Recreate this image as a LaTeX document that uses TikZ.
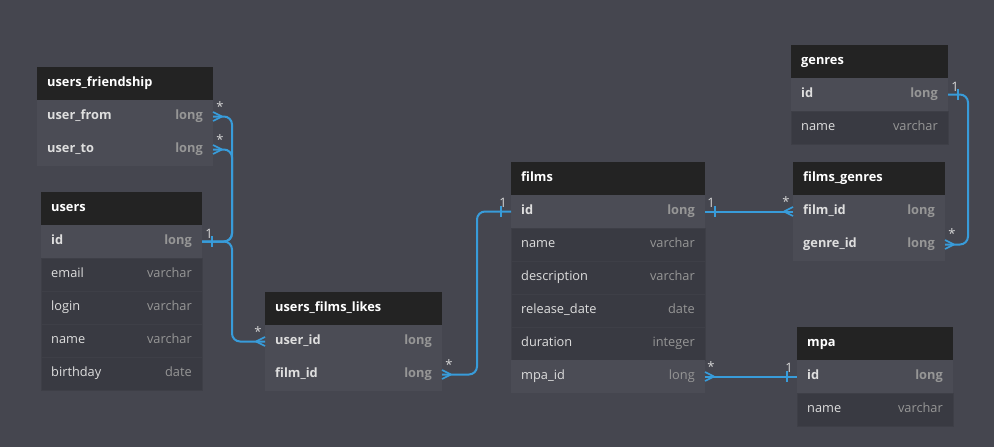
\documentclass[tikz,border=0pt]{standalone}
\usepackage{fontspec}
\setmainfont{Open Sans}
\usetikzlibrary{calc}
\definecolor{bgc}{RGB}{69,70,79}
\definecolor{hdrc}{RGB}{35,35,35}
\definecolor{keyc}{RGB}{75,76,85}
\definecolor{plainc}{RGB}{57,58,66}
\definecolor{sepc}{RGB}{62,63,71}
\definecolor{linkc}{RGB}{56,156,218}
\definecolor{namec}{RGB}{222,222,222}
\definecolor{typec}{RGB}{150,150,150}
\definecolor{lblc}{RGB}{215,215,215}
\tikzset{
  cell/.style={rectangle, inner sep=0pt, outer sep=0pt, minimum height=33pt},
  hdrcell/.style={cell, fill=hdrc},
  keycell/.style={cell, fill=keyc},
  plaincell/.style={cell, fill=plainc, draw=sepc, line width=0.5pt},
  hdrtext/.style={inner sep=0pt, text=white, font=\bfseries\fontsize{12.8}{14}\selectfont},
  keyname/.style={inner sep=0pt, text=namec, font=\bfseries\fontsize{12.8}{14}\selectfont},
  plainname/.style={inner sep=0pt, text=namec, font=\fontsize{12.8}{14}\selectfont},
  keytype/.style={inner sep=0pt, text=typec, font=\bfseries\fontsize{12.8}{14}\selectfont},
  plaintype/.style={inner sep=0pt, text=typec, font=\fontsize{12.8}{14}\selectfont},
  conn/.style={draw=linkc, line width=2pt, rounded corners=8pt},
  crowst/.style={draw=linkc, line width=1.6pt},
  tickst/.style={draw=linkc, line width=1.6pt},
  cardlbl/.style={inner sep=0pt, text=lblc, font=\fontsize{13}{14}\selectfont},
}
\newcommand\dbhead[5]{%
  \node[hdrcell, minimum width=#4pt, anchor=north west] (#1) at (#2,#3) {};
  \node[hdrtext, anchor=base west] (#1-t) at ([xshift=10pt,yshift=-2.8pt]#1.west) {#5};}
\newcommand\dbrow[7]{%
  \node[#4, minimum width=#3pt, anchor=north west] (#1) at (#2.south west) {};
  \node[#5name, anchor=base west] (#1-n) at ([xshift=10pt,yshift=-3.2pt]#1.west) {#6};
  \node[#5type, anchor=base east] (#1-y) at ([xshift=-10pt,yshift=-3.2pt]#1.east) {#7};}
\newcommand\crowfoot[2]{%
  \draw[crowst] ([xshift=#2*9pt]#1) -- ([yshift=4.5pt]#1) ([xshift=#2*9pt]#1) -- ([yshift=-4.5pt]#1);}
\newcommand\onetick[2]{%
  \draw[tickst] ([xshift=#2*10pt,yshift=5.5pt]#1) -- ([xshift=#2*10pt,yshift=-5.5pt]#1);}
\begin{document}
\begin{tikzpicture}[x=1pt,y=-1pt]
\useasboundingbox[fill=bgc] (0,0) rectangle (994,447);
% users_friendship
\dbhead{uf}{37}{67}{176}{users\_friendship}
\dbrow{ufrom}{uf}{176}{keycell}{key}{user\_from}{long}
\dbrow{uto}{ufrom}{176}{keycell}{key}{user\_to}{long}
% users
\dbhead{us}{41}{192}{161}{users}
\dbrow{uid}{us}{161}{keycell}{key}{id}{long}
\dbrow{uemail}{uid}{161}{plaincell}{plain}{email}{varchar}
\dbrow{ulogin}{uemail}{161}{plaincell}{plain}{login}{varchar}
\dbrow{uname}{ulogin}{161}{plaincell}{plain}{name}{varchar}
\dbrow{ubirth}{uname}{161}{plaincell}{plain}{birthday}{date}
% users_films_likes
\dbhead{ufl}{265}{292}{177}{users\_films\_likes}
\dbrow{ulike}{ufl}{177}{keycell}{key}{user\_id}{long}
\dbrow{lfilm}{ulike}{177}{keycell}{key}{film\_id}{long}
% films
\dbhead{fi}{511}{162}{194}{films}
\dbrow{fid}{fi}{194}{keycell}{key}{id}{long}
\dbrow{fname}{fid}{194}{plaincell}{plain}{name}{varchar}
\dbrow{fdesc}{fname}{194}{plaincell}{plain}{description}{varchar}
\dbrow{frel}{fdesc}{194}{plaincell}{plain}{release\_date}{date}
\dbrow{fdur}{frel}{194}{plaincell}{plain}{duration}{integer}
\dbrow{fmpa}{fdur}{194}{keycell}{plain}{mpa\_id}{long}
% genres
\dbhead{ge}{791}{45}{157}{genres}
\dbrow{gid}{ge}{157}{keycell}{key}{id}{long}
\dbrow{gname}{gid}{157}{plaincell}{plain}{name}{varchar}
% films_genres
\dbhead{fg}{793}{162}{152}{films\_genres}
\dbrow{fgfilm}{fg}{152}{keycell}{key}{film\_id}{long}
\dbrow{fggenre}{fgfilm}{152}{keycell}{key}{genre\_id}{long}
% mpa
\dbhead{mp}{797}{327}{156}{mpa}
\dbrow{mid}{mp}{156}{keycell}{key}{id}{long}
\dbrow{mname}{mid}{156}{plaincell}{plain}{name}{varchar}
% bus coordinates
\coordinate (busU) at (232,0);
\coordinate (busL) at (477,0);
\coordinate (busG) at (968,0);
% connectors
\draw[conn] (uid.east) -| (busU |- ufrom.east) -- (ufrom.east);
\draw[conn] (uid.east) -| (busU |- uto.east) -- (uto.east);
\draw[conn] (uid.east) -| (busU |- ulike.west) -- (ulike.west);
\draw[conn] (lfilm.east) -| (busL |- fid.west) -- (fid.west);
\draw[conn] (fid.east) -- (fgfilm.west);
\draw[conn] (gid.east) -| (busG |- fggenre.east) -- (fggenre.east);
\draw[conn] (fmpa.east) -- (mid.west);
% crow's feet
\crowfoot{ufrom.east}{1}
\crowfoot{uto.east}{1}
\crowfoot{ulike.west}{-1}
\crowfoot{lfilm.east}{1}
\crowfoot{fgfilm.west}{-1}
\crowfoot{fggenre.east}{1}
\crowfoot{fmpa.east}{1}
% one ticks
\onetick{uid.east}{1}
\onetick{fid.west}{-1}
\onetick{fid.east}{1}
\onetick{gid.east}{1}
\onetick{mid.west}{-1}
% cardinality labels
\node[cardlbl] (c1) at ([xshift=7pt,yshift=8pt]uid.east) {1};
\node[cardlbl] (c2) at ([xshift=7pt,yshift=10pt]ufrom.east) {*};
\node[cardlbl] (c3) at ([xshift=7pt,yshift=10pt]uto.east) {*};
\node[cardlbl] (c4) at ([xshift=-7pt,yshift=9.5pt]ulike.west) {*};
\node[cardlbl] (c5) at ([xshift=7pt,yshift=10pt]lfilm.east) {*};
\node[cardlbl] (c6) at ([xshift=-8pt,yshift=8.5pt]fid.west) {1};
\node[cardlbl] (c7) at ([xshift=6pt,yshift=8.5pt]fid.east) {1};
\node[cardlbl] (c8) at ([xshift=-7pt,yshift=9.5pt]fgfilm.west) {*};
\node[cardlbl] (c9) at ([xshift=7pt,yshift=11pt]fggenre.east) {*};
\node[cardlbl] (c10) at ([xshift=7pt,yshift=7.5pt]gid.east) {1};
\node[cardlbl] (c11) at ([xshift=6pt,yshift=9.5pt]fmpa.east) {*};
\node[cardlbl] (c12) at ([xshift=-8pt,yshift=8.5pt]mid.west) {1};
\end{tikzpicture}
\end{document}
